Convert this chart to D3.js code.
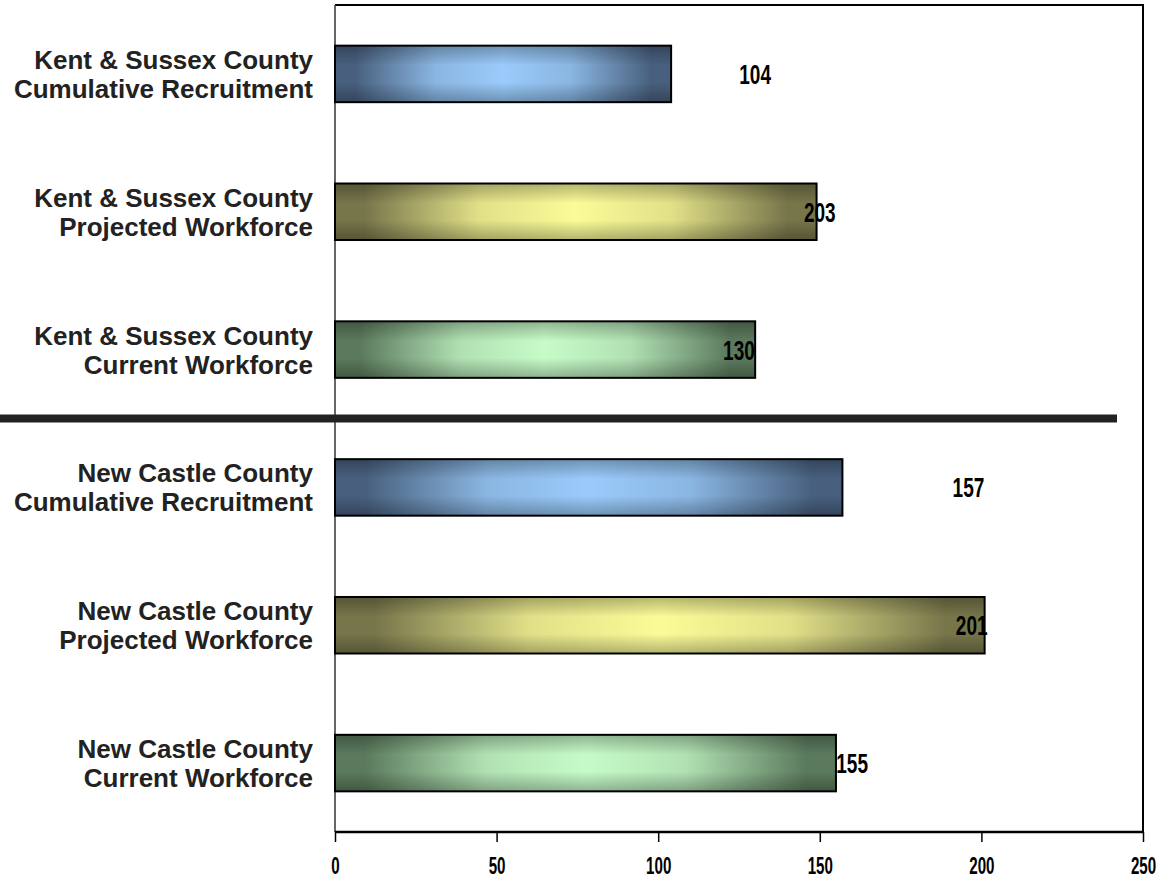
<!DOCTYPE html>
<meta charset="utf-8">
<script src="https://d3js.org/d3.v7.min.js"></script>
<style>
  body { margin: 0; background: #fff; }
  .lbl { font-family: "Liberation Sans", Arial, sans-serif; font-weight: bold; font-size: 26px; fill: #222; }
  .num { font-family: "Liberation Sans", Arial, sans-serif; font-weight: bold; fill: #000; }
</style>
<div id="chart"></div>
<script>
// categories top to bottom
let line1 = ["Kent & Sussex County", "Kent & Sussex County", "Kent & Sussex County",
             "New Castle County", "New Castle County", "New Castle County"];
let line2 = ["Cumulative Recruitment", "Projected Workforce", "Current Workforce",
             "Cumulative Recruitment", "Projected Workforce", "Current Workforce"];
// bar lengths as drawn
let barValues = [104, 149, 130, 157, 201, 155];
// label texts as printed
let labelTexts = ["104", "203", "130", "157", "201", "155"];
// where each label sits (in axis units)
let labelAt = [130, 150, 125, 196, 197, 160];
let kinds = ["blue", "yellow", "green", "blue", "yellow", "green"];
let ticks = [0, 50, 100, 150, 200, 250];

let W = 1160, H = 884;
let margin = {top: 5, right: 17, bottom: 52, left: 335};
let width = W - margin.left - margin.right,
    height = H - margin.top - margin.bottom;

let svg = d3.select("#chart").append("svg")
    .attr("width", W).attr("height", H);

let colors = {
  blue:   {dark: "#48607e", light: "#9acbfb"},
  yellow: {dark: "#77754a", light: "#fbfb98"},
  green:  {dark: "#5b7a5d", light: "#c6fbc8"}
};
let defs = svg.append("defs");
Object.keys(colors).forEach(function(k) {
  let mid = d3.interpolateRgb(colors[k].dark, colors[k].light)(0.8);
  let g = defs.append("linearGradient").attr("id", "h-" + k)
      .attr("x1", 0).attr("x2", 1).attr("y1", 0).attr("y2", 0);
  g.append("stop").attr("offset", "0%").attr("stop-color", colors[k].dark);
  g.append("stop").attr("offset", "6%").attr("stop-color", colors[k].dark);
  g.append("stop").attr("offset", "30%").attr("stop-color", mid);
  g.append("stop").attr("offset", "50%").attr("stop-color", colors[k].light);
  g.append("stop").attr("offset", "70%").attr("stop-color", mid);
  g.append("stop").attr("offset", "94%").attr("stop-color", colors[k].dark);
  g.append("stop").attr("offset", "100%").attr("stop-color", colors[k].dark);
});
let v = defs.append("linearGradient").attr("id", "vshade")
    .attr("x1", 0).attr("x2", 0).attr("y1", 0).attr("y2", 1);
v.append("stop").attr("offset", "0%").attr("stop-color", "#000").attr("stop-opacity", 0.28);
v.append("stop").attr("offset", "35%").attr("stop-color", "#000").attr("stop-opacity", 0);
v.append("stop").attr("offset", "65%").attr("stop-color", "#000").attr("stop-opacity", 0);
v.append("stop").attr("offset", "100%").attr("stop-color", "#000").attr("stop-opacity", 0.28);

let g = svg.append("g").attr("transform", "translate(" + margin.left + "," + margin.top + ")");

let x = d3.scaleLinear().domain([0, 250]).range([0, width]);
let y = d3.scaleBand().domain(d3.range(6)).range([0, height]).paddingInner(0.59).paddingOuter(0.295);

// frame top and right
g.append("path")
  .attr("d", "M0,0H" + width + "V" + height)
  .attr("fill", "none").attr("stroke", "#000").attr("stroke-width", 2);
g.append("line").attr("x1", 0).attr("x2", 0).attr("y1", 0).attr("y2", height)
  .attr("stroke", "#333").attr("stroke-width", 1.5);

// bars
let bars = g.selectAll(".bar").data(barValues).enter().append("g");
bars.append("rect")
  .attr("x", 0).attr("y", (d, i) => y(i))
  .attr("width", d => x(d)).attr("height", y.bandwidth())
  .attr("fill", (d, i) => "url(#h-" + kinds[i] + ")");
bars.append("rect")
  .attr("x", 0).attr("y", (d, i) => y(i))
  .attr("width", d => x(d)).attr("height", y.bandwidth())
  .attr("fill", "url(#vshade)")
  .attr("stroke", "#000").attr("stroke-width", 2);

// value labels (condensed look)
g.selectAll(".num").data(labelTexts).enter().append("text")
  .attr("class", "num")
  .attr("transform", (d, i) => "translate(" + x(labelAt[i]) + "," + (y(i) + y.bandwidth() / 2 + 10) + ") scale(0.68,1)")
  .attr("text-anchor", "middle")
  .attr("font-size", 28)
  .text(d => d);

// category labels
let cl = svg.selectAll(".lbl").data(line1).enter().append("text")
  .attr("class", "lbl")
  .attr("text-anchor", "end")
  .attr("x", 313)
  .attr("y", (d, i) => margin.top + y(i) + y.bandwidth() / 2 - 5);
cl.append("tspan").text(d => d);
cl.append("tspan").attr("x", 313).attr("dy", 29).text((d, i) => line2[i]);

// separator between counties
let sepY = margin.top + (y(2) + y.bandwidth() + y(3)) / 2;
svg.append("line")
  .attr("x1", 0).attr("x2", 1117)
  .attr("y1", sepY).attr("y2", sepY)
  .attr("stroke", "#222").attr("stroke-width", 8);

// x axis
let ax = g.append("g").attr("transform", "translate(0," + height + ")")
  .call(d3.axisBottom(x).tickValues(ticks).tickSize(10).tickFormat(d3.format("d")));
ax.select(".domain").attr("stroke-width", 2.5).attr("d", "M0,0H" + width);
ax.selectAll(".tick line").attr("stroke-width", 1.5);
ax.selectAll(".tick text")
  .attr("class", "num").attr("font-size", 24).attr("fill", "#000")
  .attr("y", 0).attr("dy", 0)
  .attr("transform", "translate(0,42) scale(0.63,1)");
</script>
